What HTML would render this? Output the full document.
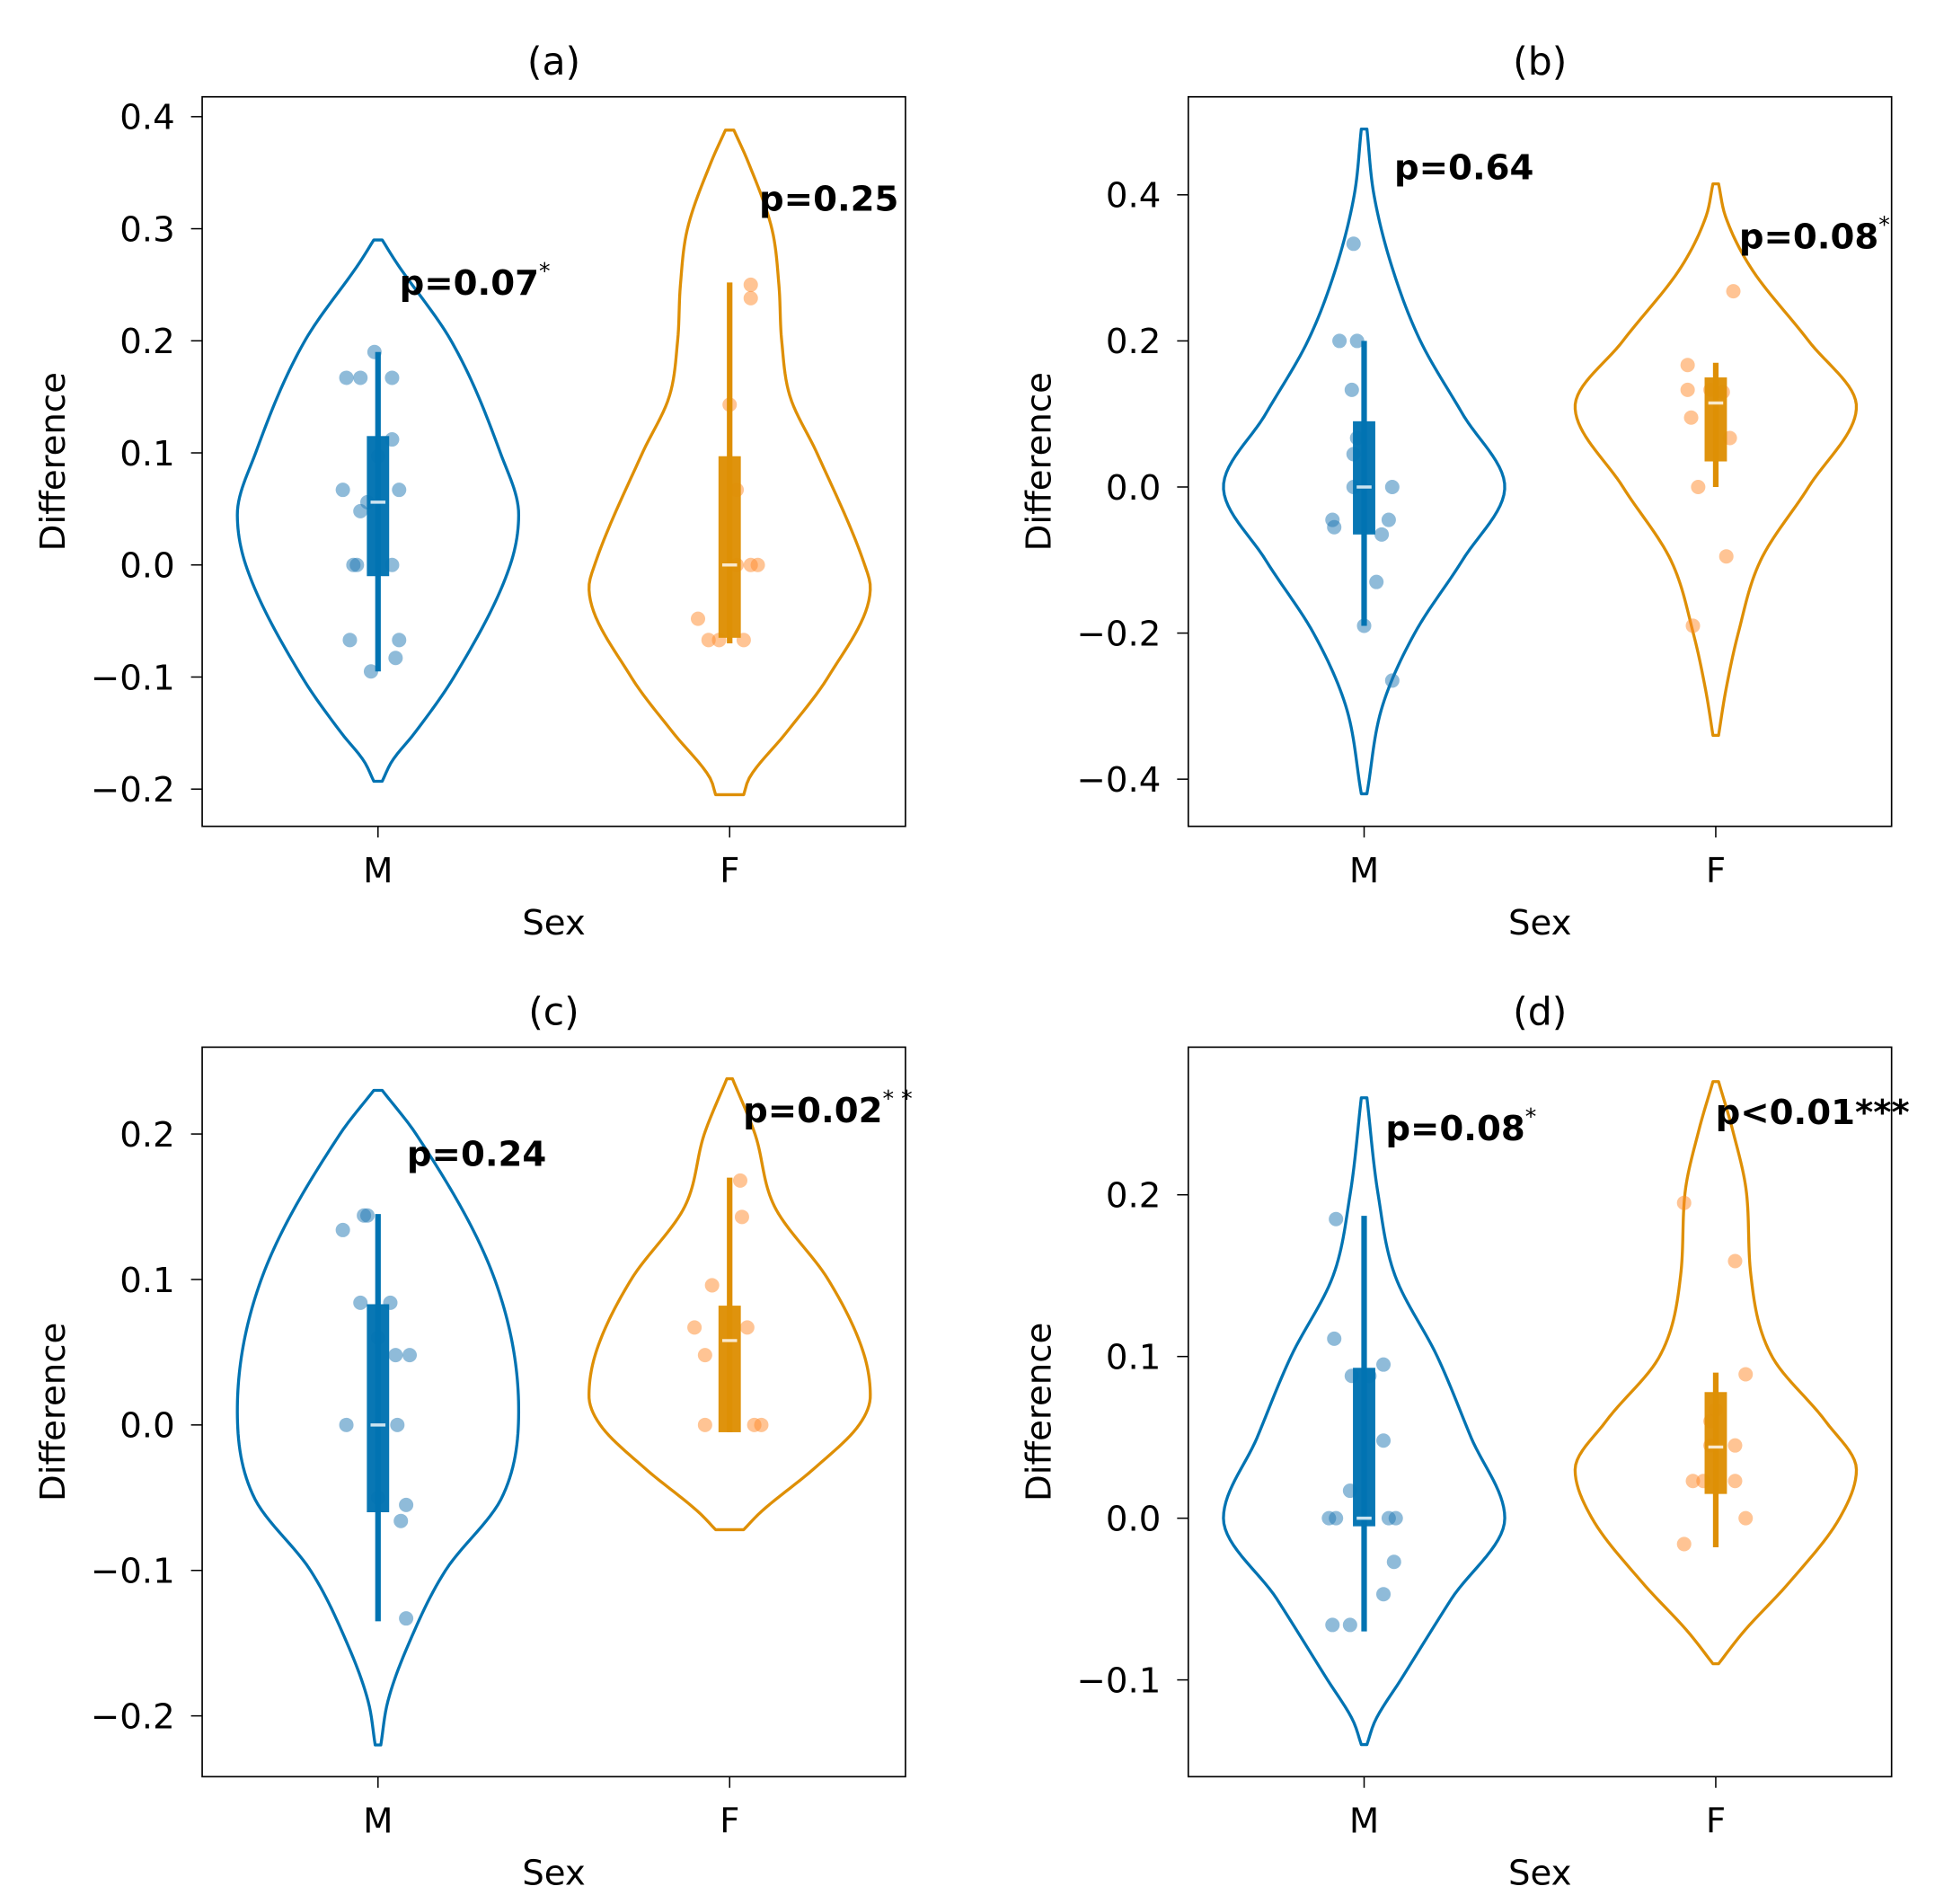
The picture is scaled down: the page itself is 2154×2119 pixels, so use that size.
<!DOCTYPE html>
<html><head><meta charset="utf-8"><style>
html,body{margin:0;padding:0;background:#fff;}
svg{display:block;font-family:"DejaVu Sans","Liberation Sans",sans-serif;}
</style></head>
<body>
<svg id="fig" xmlns="http://www.w3.org/2000/svg" width="2154" height="2119" viewBox="0 0 1560 1534.6"></svg>
<script>
// ---- data ----
const categories = ["M", "F"];
const panelTitles = ["(a)", "(b)", "(c)", "(d)"];
const yTicksA = [-0.2, -0.1, 0.0, 0.1, 0.2, 0.3, 0.4];
const yTicksB = [-0.4, -0.2, 0.0, 0.2, 0.4];
const yTicksC = [-0.2, -0.1, 0.0, 0.1, 0.2];
const yTicksD = [-0.1, 0.0, 0.1, 0.2];
// violin profiles: [value, relative half-width]
const violinAM = [[0.29,0.03],[0.27,0.13],[0.2,0.52],[0.1,0.87],[0.045,1],[0.0,0.94],[-0.1,0.54],[-0.15,0.26],[-0.175,0.1],[-0.193,0.03]];
const violinAF = [[0.388,0.03],[0.36,0.13],[0.3,0.3],[0.25,0.35],[0.2,0.37],[0.15,0.43],[0.1,0.62],[0.0,0.96],[-0.02,1],[-0.1,0.7],[-0.15,0.4],[-0.19,0.14],[-0.205,0.1]];
const violinBM = [[0.49,0.02],[0.4,0.07],[0.3,0.2],[0.2,0.4],[0.1,0.7],[0.0,1],[-0.1,0.7],[-0.2,0.36],[-0.3,0.13],[-0.42,0.02]];
const violinBF = [[0.415,0.02],[0.37,0.07],[0.3,0.25],[0.2,0.66],[0.11,1],[0.0,0.66],[-0.1,0.32],[-0.2,0.16],[-0.28,0.07],[-0.34,0.02]];
const violinCM = [[0.23,0.03],[0.2,0.27],[0.1,0.83],[0.01,1],[-0.05,0.88],[-0.1,0.48],[-0.15,0.22],[-0.19,0.07],[-0.22,0.02]];
const violinCF = [[0.238,0.02],[0.2,0.18],[0.15,0.32],[0.1,0.7],[0.05,0.95],[0.02,1],[0.0,0.92],[-0.03,0.6],[-0.06,0.22],[-0.072,0.1]];
const violinDM = [[0.26,0.02],[0.2,0.1],[0.15,0.22],[0.1,0.52],[0.05,0.76],[0.0,1],[-0.05,0.62],[-0.1,0.26],[-0.125,0.08],[-0.14,0.02]];
const violinDF = [[0.27,0.02],[0.24,0.12],[0.2,0.22],[0.15,0.25],[0.1,0.4],[0.06,0.78],[0.03,1],[0.0,0.88],[-0.04,0.52],[-0.07,0.2],[-0.09,0.02]];
// box stats: [whiskerLow, q1, median, q3, whiskerHigh]
const boxAM = [-0.095,-0.01,0.056,0.115,0.19];
const boxAF = [-0.07,-0.065,0.0,0.097,0.252];
const boxBM = [-0.19,-0.065,0.0,0.09,0.2];
const boxBF = [0.0,0.035,0.115,0.15,0.17];
const boxCM = [-0.135,-0.06,0.0,0.083,0.145];
const boxCF = [-0.005,-0.005,0.058,0.082,0.17];
const boxDM = [-0.07,-0.005,0.0,0.093,0.187];
const boxDF = [-0.018,0.015,0.044,0.078,0.09];
// points: values and jitter (fraction of category spacing)
const ptsAM = [0.167,0.167,0.167,0.19,0.067,0.067,0.048,0.056,0.112,0,0,0,-0.067,-0.067,-0.083,-0.095,0.097];
const jitAM = [-0.09,-0.05,0.04,-0.01,-0.1,0.06,-0.05,-0.03,0.04,-0.07,-0.06,0.04,-0.08,0.06,0.05,-0.02,0];
const ptsAF = [0.25,0.238,0.143,0.067,0,0,-0.048,-0.067,-0.067,-0.067,0];
const jitAF = [0.06,0.06,0,0.02,0.06,0.08,-0.09,-0.06,-0.03,0.04,0.02];
const ptsBM = [0.333,0.2,0.2,0.133,0.067,0.045,0,0,-0.045,-0.055,-0.045,-0.065,-0.13,-0.19,-0.265];
const jitBM = [-0.03,-0.07,-0.02,-0.035,-0.02,-0.03,-0.03,0.08,-0.09,-0.085,0.07,0.05,0.035,0,0.08];
const ptsBF = [0.167,0.133,0.133,0.13,0.095,0.067,0,-0.095,-0.19,0.268];
const jitBF = [-0.08,-0.08,-0.015,0.02,-0.07,0.04,-0.05,0.03,-0.065,0.05];
const ptsCM = [0.134,0.144,0.144,0.084,0.084,0.048,0.048,0,0,-0.05,-0.055,-0.066,-0.133,0.06];
const jitCM = [-0.1,-0.04,-0.03,-0.05,0.035,0.05,0.09,-0.09,0.055,0,0.08,0.065,0.08,0];
const ptsCF = [0.168,0.143,0.096,0.067,0.067,0.048,0,0,0];
const jitCF = [0.03,0.035,-0.05,-0.1,0.05,-0.07,-0.07,0.07,0.09];
const ptsDM = [0.185,0.111,0.088,0.088,0.095,0.048,0.017,0,0,0,0,-0.027,-0.047,-0.066,-0.066];
const jitDM = [-0.08,-0.085,-0.035,0.015,0.055,0.055,-0.04,-0.1,-0.08,0.07,0.09,0.085,0.055,-0.09,-0.04];
const ptsDF = [0.195,0.159,0.089,0.067,0.06,0.045,0.045,0.023,0.023,0.023,0,-0.016];
const jitDF = [-0.09,0.055,0.085,0,-0.015,0.055,-0.015,-0.065,-0.035,0.055,0.085,-0.09];
const pLabels = [["p=0.07","*","p=0.25",""],["p=0.64","","p=0.08","*"],["p=0.24","","p=0.02","* *"],["p=0.08","*","p<0.01***",""]];
const pLabelY = [[0.25,0.325],[0.435,0.34],[0.185,0.215],[0.24,0.25]];

// ---- layout ----
const NS="http://www.w3.org/2000/svg";
const svg=document.getElementById('fig');
const BLUE="#0173b2", ORANGE="#de8f05";
const panels=[
 {L:163,R:730,T:78,B:666,v1:0.4,p1:94,v2:-0.2,p2:636,ticks:yTicksA,V:[violinAM,violinAF],bx:[boxAM,boxAF],pts:[ptsAM,ptsAF],jit:[jitAM,jitAF],lx:[322,612]},
 {L:958,R:1525,T:78,B:666,v1:0.4,p1:157,v2:-0.4,p2:628,ticks:yTicksB,V:[violinBM,violinBF],bx:[boxBM,boxBF],pts:[ptsBM,ptsBF],jit:[jitBM,jitBF],lx:[1124,1402]},
 {L:163,R:730,T:844,B:1432,v1:0.2,p1:914,v2:-0.2,p2:1383,ticks:yTicksC,V:[violinCM,violinCF],bx:[boxCM,boxCF],pts:[ptsCM,ptsCF],jit:[jitCM,jitCF],lx:[328,599]},
 {L:958,R:1525,T:844,B:1432,v1:0.2,p1:963,v2:-0.1,p2:1354,ticks:yTicksD,V:[violinDM,violinDF],bx:[boxDM,boxDF],pts:[ptsDM,ptsDF],jit:[jitDM,jitDF],lx:[1117,1383]}
];
const FS=1.4; // font scale
function mk(tag,attrs,parent){const e=document.createElementNS(NS,tag);for(const k in attrs)e.setAttribute(k,attrs[k]);(parent||svg).appendChild(e);return e;}
function fmt(v){const s=Math.abs(v).toFixed(1);return (v<0?"\u2212":"")+s;}
function interp(prof){
 const p=prof.slice().sort((a,b)=>a[0]-b[0]);
 const n=p.length,xs=p.map(q=>q[0]),ys=p.map(q=>q[1]);
 const d=[],m=new Array(n);
 for(let i=0;i<n-1;i++)d.push((ys[i+1]-ys[i])/(xs[i+1]-xs[i]));
 m[0]=d[0];m[n-1]=d[n-2];
 for(let i=1;i<n-1;i++){m[i]=(d[i-1]*d[i]<=0)?0:(d[i-1]+d[i])/2;}
 for(let i=0;i<n-1;i++){if(d[i]===0){m[i]=m[i+1]=0;continue;}const a=m[i]/d[i],b=m[i+1]/d[i],s=a*a+b*b;if(s>9){const t=3/Math.sqrt(s);m[i]=t*a*d[i];m[i+1]=t*b*d[i];}}
 return v=>{let i=0;while(i<n-2&&v>xs[i+1])i++;const h=xs[i+1]-xs[i],t=(v-xs[i])/h;
  const h00=2*t*t*t-3*t*t+1,h10=t*t*t-2*t*t+t,h01=-2*t*t*t+3*t*t,h11=t*t*t-t*t;
  return Math.max(0,h00*ys[i]+h10*h*m[i]+h01*ys[i+1]+h11*h*m[i+1]);};
}

panels.forEach((P,pi)=>{
 const g=mk('g',{});
 
 
 const y=v=>P.p1+(v-P.v1)*(P.p2-P.p1)/(P.v2-P.v1);
 const step=(P.R-P.L)/2;
 const x=i=>P.L+step*(i+0.5);
 const halfMax=step*0.4;
 P.V.forEach((prof,ci)=>{
  const cx=x(ci), col=ci?ORANGE:BLUE;
  const f=interp(prof);
  const vmax=Math.max(...prof.map(q=>q[0])), vmin=Math.min(...prof.map(q=>q[0]));
  const N=120, R=[], Lf=[];
  for(let k=0;k<=N;k++){const v=vmax-(vmax-vmin)*k/N;const w=f(v)*halfMax;R.push([cx+w,y(v)]);Lf.push([cx-w,y(v)]);}
  const all=R.concat(Lf.reverse());
  const d="M"+all.map(q=>q[0].toFixed(2)+","+q[1].toFixed(2)).join(" L")+" Z";
  const p=mk('path',{d:d,fill:'none',stroke:col,'stroke-width':2.4,'stroke-linejoin':'round'},g);
  
  
 });
 P.pts.forEach((arr,ci)=>{
  arr.forEach((v,k)=>{
   const c=mk('circle',{cx:x(ci)+P.jit[ci][k]*step,cy:y(v),r:5.8,fill:ci?'#ff8a2a':'#1f77b4','fill-opacity':0.5},g);
   
   
  });
 });
 P.bx.forEach((b,ci)=>{
  const cx=x(ci), col=ci?ORANGE:BLUE;
  const w=mk('line',{x1:cx,x2:cx,y1:y(b[0]),y2:y(b[4]),stroke:col,'stroke-width':4.5},g);
  
  
  const r=mk('rect',{x:cx-9,y:y(b[3]),width:18,height:y(b[1])-y(b[3]),fill:col,'fill-opacity':0.97},g);
  
  
  const m=mk('line',{x1:cx-6,x2:cx+6,y1:y(b[2]),y2:y(b[2]),stroke:'#fff','stroke-opacity':0.8,'stroke-width':2.5},g);
  
  
 });
 const fr=mk('rect',{x:P.L,y:P.T,width:P.R-P.L,height:P.B-P.T,fill:'none',stroke:'#000','stroke-width':1.2},g);
 
 
 P.ticks.forEach(t=>{
  const ty=y(t);
  mk('line',{x1:P.L-9,x2:P.L,y1:ty,y2:ty,stroke:'#000','stroke-width':1.1},g);
  const tx=mk('text',{x:P.L-22,y:ty+10,'text-anchor':'end','font-size':20*FS},g);
  tx.textContent=fmt(t);
  
  
 });
 categories.forEach((c,ci)=>{
  mk('line',{x1:x(ci),x2:x(ci),y1:P.B,y2:P.B+9,stroke:'#000','stroke-width':1.1},g);
  const tx=mk('text',{x:x(ci),y:P.B+45,'text-anchor':'middle','font-size':20*FS},g);
  tx.textContent=c;
  
  
 });
 const cxm=(P.L+P.R)/2, cym=(P.T+P.B)/2;
 const xl=mk('text',{x:cxm,y:P.B+87,'text-anchor':'middle','font-size':20*FS},g);
 xl.textContent="Sex";
 
 
 const yx=P.L-111;
 const yl=mk('text',{x:yx,y:cym,'text-anchor':'middle','font-size':20*FS,transform:'rotate(-90 '+yx+' '+cym+')'},g);
 yl.textContent="Difference";
 
 
 const ti=mk('text',{x:cxm,y:P.T-18,'text-anchor':'middle','font-size':22*FS},g);
 ti.textContent=panelTitles[pi];
 
 
 [0,1].forEach(ci=>{
  const t=mk('text',{x:P.lx[ci],y:y(pLabelY[pi][ci])+8,'font-size':20*FS,'font-weight':'bold'},g);
  t.textContent=pLabels[pi][ci*2];
  const s=pLabels[pi][ci*2+1];
  if(s){const ts=mk('tspan',{'font-size':13*FS,'font-weight':'normal',dy:-13},t);ts.textContent=s;}
  
  
 });
});
</script>
</body></html>
